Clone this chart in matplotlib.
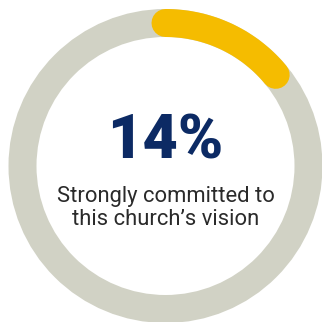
import numpy as np
import matplotlib
matplotlib.use("Agg")
import matplotlib.pyplot as plt
from matplotlib.patches import Circle

# data
share_pct = 14
label_value = "14%"
label_text = ["Strongly committed to", "this church\u2019s vision"]

ring_color = "#d1d2c5"
fill_color = "#f5bc00"
navy = "#0c2a64"
text_color = "#2a2a2a"

size_px = 322
dpi = 100
cx, cy, r = 165.5, 166.0, 143.0
ring_px = 28

fig = plt.figure(figsize=(size_px / dpi, size_px / dpi), dpi=dpi)
ax = fig.add_axes([0, 0, 1, 1])
ax.set_xlim(0, size_px)
ax.set_ylim(size_px, 0)
ax.set_aspect("equal")
ax.axis("off")

lw = ring_px * 72 / dpi

# full grey ring
ax.add_patch(Circle((cx, cy), r, fill=False, edgecolor=ring_color, lw=lw))

# highlighted share, clockwise from 12 o'clock
a = np.linspace(0, share_pct / 100 * 2 * np.pi, 100)
ax.plot(cx + r * np.sin(a), cy - r * np.cos(a), color=fill_color, lw=lw,
        solid_capstyle="round")

ax.text(cx, 141, label_value, ha="center", va="center", color=navy,
        fontsize=44, fontweight="black", family="Roboto")
ax.text(cx, 202, label_text[0], ha="center", va="baseline", color=text_color,
        fontsize=15.8, family="Roboto")
ax.text(cx, 225, label_text[1], ha="center", va="baseline", color=text_color,
        fontsize=15.8, family="Roboto")

fig.savefig("out.png", dpi=dpi)
